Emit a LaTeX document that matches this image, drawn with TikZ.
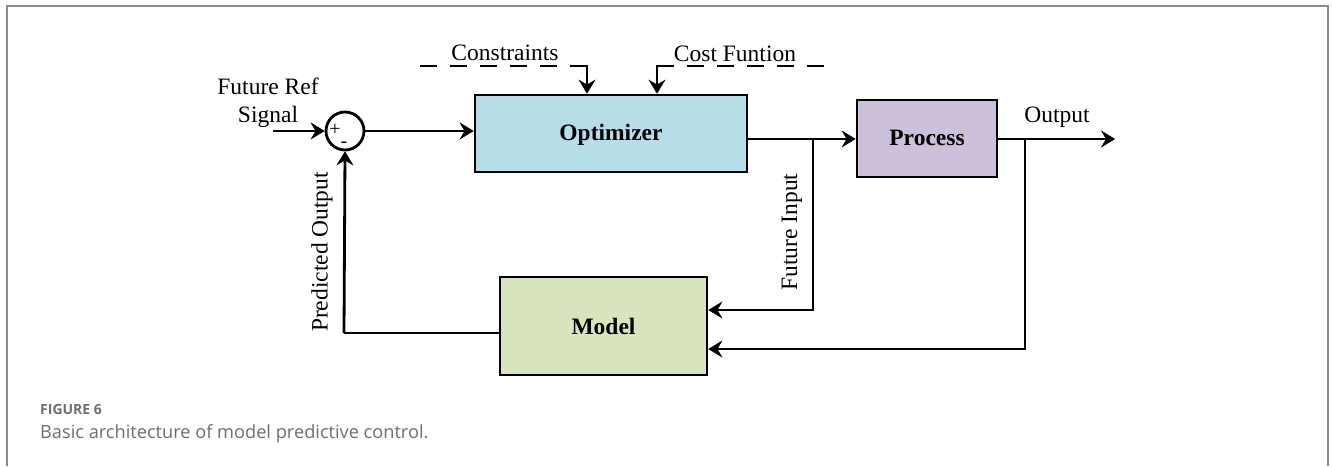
\documentclass[tikz,border=0pt]{standalone}
\usepackage{fontspec}
\setmainfont{Liberation Serif}
\newfontfamily\capfont{Open Sans}
\usetikzlibrary{arrows.meta,calc}
\definecolor{optfill}{HTML}{B7DDE8}
\definecolor{procfill}{HTML}{CCC0DA}
\definecolor{modfill}{HTML}{D7E4BD}
\definecolor{framegray}{HTML}{8C8C8C}
\definecolor{capgray}{HTML}{6E6E6E}
\tikzset{
  chev/.tip={Stealth[length=14pt,width=17pt,inset=5pt,line width=0.4pt,fill=black]},
  wire/.style={line width=2.8pt},
  arr/.style={line width=2.8pt,-chev},
  block/.style={draw,line width=2.8pt,inner sep=0pt,font=\fontsize{23.5}{28}\selectfont\bfseries},
  lbl/.style={font=\fontsize{23.5}{28}\selectfont,inner sep=0pt},
}
\begin{document}
\begin{tikzpicture}[x=1pt,y=-1pt]
\useasboundingbox (0,0) rectangle (1332,466);
% frame
\draw[framegray,line width=2pt] (7,466) -- (7,6) -- (1328,6) -- (1328,466);
% blocks
\node[block,fill=optfill,minimum width=272pt,minimum height=77pt] (opt) at (611,133.5) {};
\node[lbl,font=\fontsize{23.5}{28}\selectfont\bfseries,anchor=base] (optt) at (611,140) {Optimizer};
\node[block,fill=procfill,minimum width=140pt,minimum height=77pt] (proc) at (927,138.5) {};
\node[lbl,font=\fontsize{23.5}{28}\selectfont\bfseries,anchor=base] (proct) at (927,145) {Process};
\node[block,fill=modfill,minimum width=207pt,minimum height=98pt] (model) at (603.5,326) {Model};
\node[draw,circle,line width=2.8pt,minimum size=38pt,inner sep=0pt] (sum) at (345,131) {};
\node[inner sep=0pt,font=\fontsize{20}{20}\selectfont] (plus) at (335,130) {+};
\node[inner sep=0pt,font=\fontsize{20}{20}\selectfont] (minus) at (344,145) {-};
% coordinates
\coordinate (in) at (273,131);
\coordinate (j1) at (813,139);
\coordinate (j2) at (1025,139);
\coordinate (out) at (1115,139);
\coordinate (c1) at (587,66);
\coordinate (c2) at (657,66);
\coordinate (d1) at (415,66);
\coordinate (d2) at (828,66);
\coordinate (pk) at (344,333);
% labels
\node[lbl,align=center] (ref) at (268,103) {Future Ref\\Signal};
\node[lbl,anchor=base] (cons) at (505,60) {Constraints};
\node[lbl,anchor=base] (cost) at (735,61) {Cost Funtion};
\node[lbl,anchor=base] (outl) at (1057,122) {Output};
\node[lbl,rotate=90] (fin) at (792,232) {Future Input};
\node[lbl,rotate=90] (pout) at (322,252) {Predicted Output};
% connectors
\draw[arr] (in) -- (sum.west);
\draw[arr] (sum.east) -- (sum.east -| opt.west);
\draw[arr] (opt.east |- j1) -- (proc.west |- j1);
\draw[arr] (proc.east |- j2) -- (out);
\draw[arr] (j1) |- ([yshift=16pt]model.east);
\draw[arr] (j2) |- ([yshift=-23pt]model.east);
\draw[wire] (model.west |- pk) -- (pk);
\draw[arr] (pk) -- (sum.south);
\draw[wire,dash pattern=on 17pt off 13pt] (c1) -- (d1);
\draw[wire,dash pattern=on 17pt off 13pt] (c2) -- (d2);
\draw[arr] ([yshift=1.4pt]c1) -- (c1 |- opt.north);
\draw[arr] ([yshift=1.4pt]c2) -- (c2 |- opt.north);
% caption
\node[anchor=base west,inner sep=0pt,text=capgray,font=\capfont\fontsize{14}{16}\selectfont\bfseries] (fig) at (40,414) {FIGURE 6};
\node[anchor=base west,inner sep=0pt,text=capgray,font=\capfont\fontsize{18.2}{22}\selectfont] (cap) at (40,438) {Basic architecture of model predictive control.};
\end{tikzpicture}
\end{document}
